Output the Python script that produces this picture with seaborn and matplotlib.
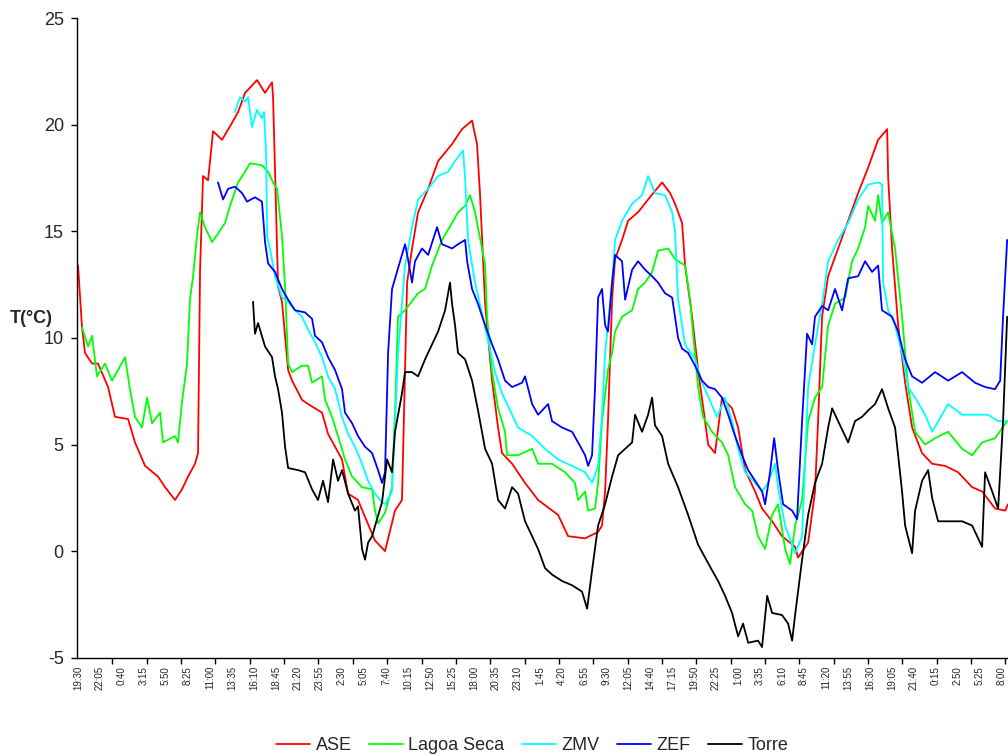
import numpy as np
import pandas as pd
import matplotlib
matplotlib.use('Agg')
import matplotlib.pyplot as plt
import seaborn as sns

# leituras (horas desde as 19:30 do primeiro dia, temperatura em ºC)
ase = [
    (0.0, 13.4), (0.47, 10.5), (0.82, 9.3), (1.65, 8.8), (2.35, 8.8), (3.53, 7.7), (4.34, 6.3), (5.88, 6.2), (6.69, 5.1), (7.87, 4.0),
    (9.39, 3.5), (10.22, 3.0), (11.39, 2.4), (12.21, 2.9), (12.92, 3.5), (13.74, 4.1), (14.09, 4.6), (14.33, 13.2), (14.68, 17.6), (15.27, 17.4),
    (15.86, 19.7), (16.91, 19.3), (18.09, 20.1), (18.79, 20.6), (19.61, 21.5), (21.02, 22.1), (21.96, 21.5), (22.78, 22.0), (22.9, 21.3), (23.13, 17.9),
    (23.49, 12.4), (23.95, 11.7), (24.67, 8.5), (25.13, 8.0), (26.3, 7.1), (27.01, 6.9), (28.65, 6.5), (29.36, 5.5), (31.0, 4.3), (31.71, 2.7),
    (32.88, 2.4), (33.7, 1.6), (34.87, 0.5), (36.05, 0.0), (37.22, 1.9), (38.04, 2.4), (38.64, 12.6), (39.22, 14.2), (39.93, 15.9), (41.11, 17.0),
    (42.28, 18.3), (43.92, 19.1), (45.09, 19.8), (46.27, 20.2), (46.85, 19.1), (47.21, 16.7), (47.8, 11.6), (48.62, 8.0), (49.32, 5.8), (49.79, 4.6),
    (50.97, 4.1), (52.49, 3.2), (54.02, 2.4), (56.37, 1.7), (57.55, 0.7), (59.54, 0.6), (61.07, 0.9), (61.53, 1.2), (61.89, 2.8), (62.23, 6.1),
    (62.71, 11.8), (63.06, 13.7), (63.88, 14.6), (64.59, 15.5), (65.76, 15.9), (66.94, 16.5), (68.58, 17.3), (69.52, 16.8), (70.1, 16.3), (70.93, 15.4),
    (71.28, 13.4), (72.11, 11.0), (72.81, 8.5), (73.63, 6.1), (73.99, 5.0), (74.8, 4.6), (75.62, 7.2), (76.8, 6.7), (77.51, 5.8), (78.33, 3.8),
    (79.5, 2.8), (80.32, 2.0), (81.5, 1.4), (82.67, 0.7), (84.2, 0.2), (84.55, -0.3), (85.73, 0.4), (86.54, 2.8), (86.9, 6.1), (87.37, 11.0),
    (88.08, 12.9), (89.25, 14.2), (90.43, 15.5), (91.6, 16.8), (92.78, 18.0), (93.95, 19.3), (95.01, 19.8), (95.13, 17.5), (95.59, 14.2), (96.3, 10.6),
    (97.12, 7.9), (97.94, 5.8), (99.11, 4.6), (100.29, 4.1), (101.81, 4.0), (103.34, 3.7), (104.99, 3.0), (106.16, 2.8), (107.68, 2.0), (108.86, 1.9),
    (109.2, 2.2),
]

lagoa_seca = [
    (0.47, 10.5), (1.18, 9.6), (1.65, 10.1), (2.23, 8.2), (3.17, 8.8), (3.99, 8.0), (4.7, 8.5), (5.52, 9.1), (6.1, 7.6), (6.69, 6.3),
    (7.51, 5.8), (8.11, 7.2), (8.69, 6.0), (9.63, 6.5), (9.98, 5.1), (11.39, 5.4), (11.74, 5.1), (12.21, 7.0), (12.8, 8.8), (13.15, 11.8),
    (13.51, 12.9), (13.97, 14.8), (14.33, 15.9), (14.91, 15.2), (15.74, 14.5), (16.44, 14.9), (17.26, 15.4), (17.85, 16.2), (18.79, 17.3), (19.61, 17.8),
    (20.2, 18.2), (21.6, 18.1), (22.32, 17.8), (22.9, 17.3), (23.37, 17.0), (23.95, 14.8), (24.31, 12.4), (24.67, 8.8), (25.13, 8.4), (26.3, 8.7),
    (27.01, 8.7), (27.48, 7.9), (28.65, 8.2), (29.01, 7.1), (29.83, 6.3), (30.53, 5.4), (31.35, 4.3), (32.18, 3.5), (33.35, 3.0), (34.53, 2.9),
    (34.87, 1.9), (35.23, 1.3), (36.05, 1.8), (36.87, 3.0), (37.22, 6.5), (37.58, 11.0), (38.4, 11.3), (39.93, 12.1), (40.75, 12.3), (41.57, 13.4),
    (42.74, 14.6), (43.92, 15.4), (44.62, 15.9), (45.45, 16.2), (46.03, 16.7), (46.62, 15.9), (47.44, 14.2), (47.8, 13.4), (48.03, 11.0), (48.62, 8.4),
    (49.32, 6.7), (50.14, 5.6), (50.38, 4.5), (51.67, 4.5), (53.32, 4.8), (54.02, 4.1), (55.66, 4.1), (57.19, 3.7), (58.36, 3.2), (58.72, 2.4),
    (59.54, 2.8), (59.9, 1.9), (60.71, 2.0), (61.07, 3.2), (61.53, 6.1), (62.23, 8.5), (62.71, 9.3), (63.06, 10.3), (63.88, 11.0), (65.06, 11.3),
    (65.76, 12.3), (66.59, 12.6), (67.41, 13.1), (68.11, 14.1), (69.29, 14.2), (70.1, 13.7), (71.28, 13.4), (71.87, 11.8), (72.22, 10.2), (72.81, 7.7),
    (73.39, 6.3), (74.45, 5.6), (75.62, 5.1), (76.34, 4.5), (77.15, 3.0), (78.33, 2.2), (79.15, 1.9), (79.85, 0.7), (80.68, 0.1), (81.5, 1.7),
    (82.2, 2.2), (83.03, 0.1), (83.61, -0.6), (84.2, 1.2), (85.02, 2.4), (85.73, 6.1), (86.54, 7.2), (87.37, 7.7), (88.08, 10.6), (88.89, 11.6),
    (90.07, 11.9), (90.89, 13.6), (91.6, 14.2), (92.42, 15.2), (92.78, 16.2), (93.59, 15.5), (93.95, 16.7), (94.41, 15.4), (95.13, 15.9), (95.59, 14.9),
    (95.94, 14.2), (96.76, 11.0), (97.47, 7.7), (98.29, 5.6), (99.47, 5.0), (100.64, 5.3), (102.17, 5.6), (103.81, 4.8), (104.99, 4.5), (106.16, 5.1),
    (107.68, 5.3), (109.1, 6.1),
]

zmv = [
    (18.43, 20.6), (19.03, 21.3), (19.61, 21.1), (19.97, 21.3), (20.43, 19.9), (21.02, 20.7), (21.6, 20.3), (21.84, 20.6), (22.08, 18.7), (22.2, 14.8),
    (22.78, 13.7), (23.13, 12.9), (23.95, 11.9), (24.67, 11.7), (25.48, 11.3), (26.3, 11.0), (27.01, 10.4), (27.83, 9.8), (28.65, 9.1), (29.36, 8.2),
    (30.18, 7.6), (31.0, 6.3), (31.71, 5.5), (32.52, 4.9), (33.35, 4.1), (34.06, 3.3), (34.87, 2.7), (35.7, 2.3), (36.05, 2.2), (36.87, 2.8),
    (37.58, 9.3), (38.4, 13.4), (39.22, 15.2), (39.93, 16.5), (41.11, 17.0), (42.28, 17.6), (43.46, 17.8), (44.27, 18.3), (45.21, 18.8), (45.45, 17.5),
    (45.8, 14.6), (46.62, 12.6), (47.8, 10.5), (48.97, 8.4), (49.79, 7.4), (50.97, 6.4), (51.67, 5.8), (53.32, 5.4), (54.84, 4.8), (56.37, 4.3),
    (58.01, 4.0), (59.54, 3.7), (60.36, 3.2), (61.07, 4.0), (61.53, 6.4), (61.89, 9.3), (62.71, 12.6), (63.06, 14.6), (63.88, 15.5), (65.06, 16.3),
    (66.23, 16.7), (66.94, 17.6), (67.75, 16.8), (68.93, 16.7), (69.76, 15.9), (70.1, 15.0), (70.46, 11.8), (71.28, 9.7), (72.45, 9.0), (73.27, 7.9),
    (75.04, 6.3), (75.98, 7.2), (76.8, 6.1), (77.51, 4.8), (78.33, 3.7), (79.5, 3.2), (80.32, 2.8), (81.03, 3.2), (81.85, 4.1), (82.2, 3.0),
    (83.03, 1.2), (84.2, -0.1), (85.02, 0.7), (85.73, 7.7), (86.54, 9.7), (87.37, 11.6), (88.08, 13.6), (89.25, 14.6), (90.43, 15.4), (91.6, 16.5),
    (92.78, 17.2), (93.95, 17.3), (94.41, 17.2), (94.53, 12.6), (95.13, 11.3), (95.94, 10.6), (96.76, 9.3), (97.47, 7.7), (98.29, 7.2), (99.47, 6.4),
    (100.29, 5.6), (101.46, 6.4), (102.17, 6.9), (103.81, 6.4), (105.33, 6.4), (106.87, 6.4), (108.04, 6.1), (109.1, 6.1),
]

zef = [
    (16.44, 17.3), (17.03, 16.5), (17.62, 17.0), (18.43, 17.1), (19.26, 16.8), (19.85, 16.4), (20.78, 16.6), (21.6, 16.4), (21.96, 14.5), (22.32, 13.5),
    (23.13, 13.1), (23.95, 12.3), (24.67, 11.8), (25.48, 11.3), (26.66, 11.2), (27.48, 10.9), (27.83, 10.1), (28.65, 9.8), (29.36, 9.1), (30.18, 8.5),
    (31.0, 7.6), (31.35, 6.5), (32.18, 6.0), (32.88, 5.4), (33.7, 4.9), (34.53, 4.6), (35.23, 3.8), (35.7, 3.2), (36.05, 3.7), (36.41, 9.3),
    (36.87, 12.3), (38.04, 13.9), (38.4, 14.4), (38.75, 13.7), (39.22, 12.6), (39.57, 13.6), (40.39, 14.2), (41.11, 13.9), (42.16, 15.2), (42.74, 14.4),
    (43.92, 14.2), (44.62, 14.4), (45.45, 14.6), (45.69, 13.6), (46.27, 12.3), (46.97, 11.6), (47.8, 10.6), (48.62, 9.7), (49.32, 9.0), (50.14, 8.0),
    (50.97, 7.7), (52.14, 7.9), (52.49, 8.2), (53.32, 6.9), (54.02, 6.4), (55.2, 6.9), (55.66, 6.1), (56.83, 5.8), (58.01, 5.6), (58.72, 5.1),
    (59.54, 4.5), (59.9, 4.0), (60.36, 4.5), (60.71, 7.7), (61.07, 11.9), (61.53, 12.3), (61.89, 10.6), (62.23, 10.3), (62.71, 12.6), (63.06, 13.9),
    (63.88, 13.6), (64.24, 11.8), (65.06, 13.2), (65.76, 13.6), (66.59, 13.2), (67.41, 12.9), (68.11, 12.6), (68.93, 12.1), (69.76, 11.9), (70.1, 11.0),
    (70.46, 10.0), (70.93, 9.5), (71.64, 9.3), (72.45, 8.7), (73.27, 8.0), (73.99, 7.7), (74.8, 7.6), (75.62, 7.2), (76.34, 6.4), (77.15, 5.4),
    (77.97, 4.5), (78.69, 3.8), (79.5, 3.3), (80.32, 2.8), (80.68, 2.2), (81.26, 3.7), (81.74, 5.3), (82.2, 3.8), (82.79, 2.2), (83.85, 1.9),
    (84.43, 1.5), (85.02, 6.1), (85.61, 10.2), (86.2, 9.7), (86.54, 11.0), (87.37, 11.5), (88.08, 11.3), (88.89, 12.3), (89.72, 11.3), (90.43, 12.8),
    (91.6, 12.9), (92.42, 13.6), (93.24, 13.1), (93.95, 13.4), (94.41, 11.3), (95.59, 11.0), (96.3, 10.3), (97.12, 9.0), (97.94, 8.2), (99.11, 7.9),
    (100.64, 8.4), (102.17, 8.0), (103.81, 8.4), (105.33, 7.9), (106.51, 7.7), (107.68, 7.6), (108.28, 8.0), (108.62, 11.0), (109.1, 14.6),
]

torre = [
    (20.55, 11.7), (20.78, 10.2), (21.14, 10.7), (21.96, 9.6), (22.78, 9.1), (23.13, 8.2), (23.49, 7.6), (23.95, 6.5), (24.31, 4.9), (24.67, 3.9),
    (25.84, 3.8), (26.66, 3.7), (27.48, 2.9), (28.18, 2.4), (28.77, 3.3), (29.36, 2.3), (29.95, 4.3), (30.53, 3.3), (31.0, 3.8), (31.71, 2.7),
    (32.52, 1.9), (32.88, 2.1), (33.35, 0.1), (33.7, -0.4), (34.06, 0.4), (34.53, 0.7), (35.11, 1.5), (35.7, 2.3), (36.29, 4.3), (36.87, 3.7),
    (37.22, 5.6), (38.04, 7.4), (38.4, 8.4), (39.22, 8.4), (39.93, 8.2), (40.75, 9.0), (41.57, 9.7), (42.28, 10.3), (43.1, 11.3), (43.68, 12.6),
    (43.92, 11.6), (44.27, 10.6), (44.62, 9.3), (45.45, 9.0), (46.27, 8.0), (46.97, 6.6), (47.8, 4.8), (48.62, 4.1), (49.32, 2.4), (50.14, 2.0),
    (50.97, 3.0), (51.67, 2.7), (52.49, 1.4), (53.32, 0.7), (54.02, 0.1), (54.84, -0.8), (55.66, -1.1), (56.83, -1.4), (58.01, -1.6), (59.18, -1.9),
    (59.78, -2.7), (60.36, -0.9), (61.07, 1.2), (61.89, 2.2), (62.71, 3.5), (63.42, 4.5), (64.24, 4.8), (65.06, 5.1), (65.41, 6.4), (66.23, 5.6),
    (66.94, 6.4), (67.41, 7.2), (67.75, 5.9), (68.58, 5.4), (69.29, 4.1), (70.46, 3.0), (71.64, 1.7), (72.81, 0.3), (73.63, -0.3), (74.45, -0.9),
    (75.16, -1.4), (75.98, -2.1), (76.8, -2.9), (77.51, -4.0), (78.09, -3.4), (78.69, -4.3), (79.85, -4.2), (80.32, -4.5), (80.92, -2.1), (81.5, -2.9),
    (82.67, -3.0), (83.38, -3.4), (83.85, -4.2), (84.2, -3.0), (85.02, -0.4), (85.73, 1.7), (86.54, 3.2), (87.37, 4.1), (88.08, 5.8), (88.55, 6.7),
    (89.25, 6.1), (90.43, 5.1), (91.24, 6.1), (92.06, 6.3), (92.78, 6.6), (93.59, 6.9), (94.41, 7.6), (95.13, 6.7), (95.94, 5.8), (96.3, 4.5),
    (96.76, 2.8), (97.12, 1.2), (97.94, -0.1), (98.29, 1.9), (99.11, 3.3), (99.82, 3.8), (100.29, 2.5), (100.99, 1.4), (102.17, 1.4), (103.81, 1.4),
    (104.99, 1.2), (106.16, 0.2), (106.51, 3.7), (107.34, 2.8), (108.04, 2.0), (108.62, 6.1), (109.1, 11.0),
]

estacoes = ['ASE', 'Lagoa Seca', 'ZMV', 'ZEF', 'Torre']
cores = ['#ff0000', '#00ff00', '#00ffff', '#0000ff', '#000000']

# rótulos do eixo x (um a cada 155 min)
rotulos_x = ['19:30', '22:05', '0:40', '3:15', '5:50', '8:25', '11:00', '13:35', '16:10', '18:45',
             '21:20', '23:55', '2:30', '5:05', '7:40', '10:15', '12:50', '15:25', '18:00', '20:35',
             '23:10', '1:45', '4:20', '6:55', '9:30', '12:05', '14:40', '17:15', '19:50', '22:25',
             '1:00', '3:35', '6:10', '8:45', '11:20', '13:55', '16:30', '19:05', '21:40', '0:15',
             '2:50', '5:25', '8:00']

# tabela longa para o seaborn
partes = []
for nome, serie in zip(estacoes, [ase, lagoa_seca, zmv, zef, torre]):
    h, t = zip(*serie)
    partes.append(pd.DataFrame({'hora': h, 'T': t, 'estacao': nome}))
df = pd.concat(partes, ignore_index=True)

sns.set_style('white')
plt.rcParams['font.family'] = ['Liberation Sans', 'DejaVu Sans']
plt.rcParams['axes.unicode_minus'] = False

fig = plt.figure(figsize=(10.08, 7.56), dpi=100)
ax = fig.add_axes([77 / 1008, 98.3 / 756, 931 / 1008, 639.4 / 756])

sns.lineplot(data=df, x='hora', y='T', hue='estacao', hue_order=estacoes,
             palette=dict(zip(estacoes, cores)), estimator=None, sort=False,
             linewidth=1.3, ax=ax)

handles, labels = ax.get_legend_handles_labels()
ax.get_legend().remove()
fig.legend(handles, labels, loc='center', bbox_to_anchor=(532 / 1008, 1 - 746 / 756),
           ncol=5, frameon=False, fontsize=13, handlelength=1.9, handletextpad=0.3,
           columnspacing=0.95)

# eixos
ax.set_xlim(-0.12, 109.2)
ax.set_ylim(-5, 25)
ax.set_yticks(range(-5, 26, 5))
ax.set_xticks(np.arange(len(rotulos_x)) * 155 / 60)
ax.set_xticklabels(rotulos_x, rotation=90, fontsize=7)
ax.set_xticks(np.arange(0, 109.2, 242 / 60), minor=True)
ax.tick_params(axis='x', which='major', length=0, pad=6)
ax.tick_params(axis='x', which='minor', length=4, width=1, color='black', direction='out', bottom=True)
ax.tick_params(axis='y', length=4.5, width=1, color='black', direction='out', left=True, labelsize=13, pad=5)
ax.set_xlabel('')
ax.set_ylabel('')
for s in ['top', 'right']:
    ax.spines[s].set_visible(False)
for s in ['left', 'bottom']:
    ax.spines[s].set_color('black')
    ax.spines[s].set_linewidth(1)

fig.text(31 / 1008, 1 - 318 / 756, 'T(°C)', fontsize=13, fontweight='bold', ha='center', va='center')

fig.savefig('out.png', dpi=100)
